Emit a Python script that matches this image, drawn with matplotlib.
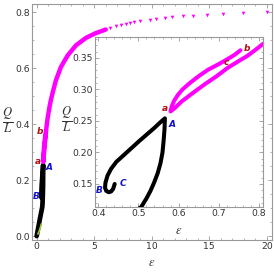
import matplotlib
matplotlib.use("Agg")
import matplotlib.pyplot as plt
from matplotlib.ticker import MultipleLocator, FuncFormatter

plt.rcParams['mathtext.fontset'] = 'stix'
plt.rcParams['font.family'] = ['DejaVu Sans']

# --- data ---
black_eps = [0.0, 0.14, 0.30, 0.42, 0.48, 0.507, 0.52, 0.53, 0.539, 0.548, 0.555,
             0.56, 0.563, 0.565, 0.566, 0.555, 0.54, 0.502, 0.445, 0.432, 0.423,
             0.418, 0.417, 0.42, 0.426, 0.432, 0.437, 0.441]
black_q = [0.0, 0.03, 0.065, 0.09, 0.102, 0.1135, 0.127, 0.139, 0.152, 0.167, 0.183,
           0.2, 0.22, 0.237, 0.254, 0.248, 0.239, 0.218, 0.185, 0.174, 0.163,
           0.152, 0.144, 0.139, 0.137, 0.138, 0.142, 0.15]

green_eps = [0.12, 0.22, 0.32, 0.40]
green_q = [0.008, 0.018, 0.030, 0.042]

mag_eps = [0.754, 0.74, 0.722, 0.70, 0.673, 0.648, 0.626, 0.610, 0.598, 0.589,
           0.583, 0.58, 0.59, 0.608, 0.635, 0.665, 0.695, 0.722, 0.75, 0.771,
           0.79, 0.81, 0.87, 0.95, 1.09, 1.23, 1.39, 1.67, 2.11, 2.69, 3.41,
           4.28, 5.14, 6.01]
mag_q = [0.362, 0.355, 0.348, 0.340, 0.331, 0.320, 0.309, 0.300, 0.291, 0.282,
         0.273, 0.265, 0.270, 0.281, 0.294, 0.308, 0.321, 0.334, 0.345, 0.353,
         0.362, 0.372, 0.395, 0.420, 0.455, 0.485, 0.512, 0.556, 0.604, 0.645,
         0.681, 0.708, 0.725, 0.738]

tri_eps = [6.4, 6.88, 7.3, 7.74, 8.1, 8.46, 8.98, 9.85, 10.4, 11.15, 11.8,
           12.7, 13.6, 14.8, 16.2, 17.9, 20.0]
tri_q = [0.744, 0.749, 0.754, 0.758, 0.761, 0.764, 0.768, 0.773, 0.776, 0.779,
         0.782, 0.785, 0.788, 0.791, 0.794, 0.796, 0.799]

main_labels = [("a", 0.09, 0.268, "#B01010"), ("A", 1.07, 0.245, "#1010D0"),
               ("B", -0.06, 0.143, "#1010D0"), ("b", 0.29, 0.375, "#B01010")]
inset_labels = [("a", 0.566, 0.269, "#B01010"), ("b", 0.771, 0.364, "#B01010"),
                ("c", 0.72, 0.342, "#B01010"), ("A", 0.583, 0.244, "#1010D0"),
                ("B", 0.403, 0.139, "#1010D0"), ("C", 0.461, 0.150, "#1010D0")]

MAG = "#FF00FF"
SPINE = "#999999"
TXT = "#333333"

fig = plt.figure(figsize=(2.74, 2.72), dpi=100)


def style(ax, xmaj, xmin, ymaj, ymin, fs):
    for s in ax.spines.values():
        s.set_color(SPINE)
        s.set_linewidth(0.8)
    ax.xaxis.set_major_locator(MultipleLocator(xmaj))
    ax.xaxis.set_minor_locator(MultipleLocator(xmin))
    ax.yaxis.set_major_locator(MultipleLocator(ymaj))
    ax.yaxis.set_minor_locator(MultipleLocator(ymin))
    ax.tick_params(which='both', direction='in', top=True, right=True,
                   color=SPINE, labelcolor=TXT, labelsize=fs, pad=1.5)
    ax.tick_params(which='major', length=3, width=0.6)
    ax.tick_params(which='minor', length=1.6, width=0.5)


ax = fig.add_axes([0.1157, 0.1176, 0.877, 0.8676])
ax.plot(black_eps, black_q, color='black', lw=3.4, solid_capstyle='round',
        solid_joinstyle='round', zorder=3)
ax.plot(green_eps, green_q, color='#9ACD32', lw=1.2, zorder=4)
ax.plot(mag_eps, mag_q, color=MAG, lw=3.2, solid_capstyle='round',
        solid_joinstyle='round', zorder=3)
ax.plot(tri_eps, tri_q, ls='none', marker='v', ms=2.6, color=MAG, mew=0, zorder=3)
ax.set_xlim(-0.43, 20.46)
ax.set_ylim(-0.014, 0.829)
style(ax, 5, 1, 0.2, 0.05, 6.7)
ax.xaxis.set_major_formatter(FuncFormatter(lambda v, p: f"{v:.0f}"))
ax.yaxis.set_major_formatter(FuncFormatter(lambda v, p: f"{v:.1f}"))
for t, x, y, c in main_labels:
    ax.text(x, y, t, color=c, fontsize=6.5, fontstyle='italic', fontweight='bold',
            ha='center', va='center', zorder=5)
fig.text(0.555, 0.035, r'$\epsilon$', fontsize=9, ha='center', va='center', color=TXT)
fig.text(0.028, 0.555, r'$\frac{Q}{L}$', fontsize=13, ha='center', va='center', color=TXT)

ins = fig.add_axes([0.3467, 0.239, 0.613, 0.625])
ins.set_facecolor('white')
ins.plot(black_eps, black_q, color='black', lw=2.9, solid_capstyle='round',
         solid_joinstyle='round', zorder=3)
ins.plot(mag_eps, mag_q, color=MAG, lw=2.9, solid_capstyle='round',
         solid_joinstyle='round', zorder=3)
ins.set_xlim(0.392, 0.81)
ins.set_ylim(0.1135, 0.383)
style(ins, 0.1, 0.02, 0.05, 0.01, 6.7)
ins.xaxis.set_major_formatter(FuncFormatter(lambda v, p: f"{v:.1f}"))
ins.yaxis.set_major_formatter(FuncFormatter(lambda v, p: f"{v:.2f}"))
for t, x, y, c in inset_labels:
    ins.text(x, y, t, color=c, fontsize=6.5, fontstyle='italic', fontweight='bold',
             ha='center', va='center', zorder=5)
fig.text(179 / 274, 1 - 230 / 272, r'$\epsilon$', fontsize=9, ha='center', va='center', color=TXT)
fig.text(67 / 274, 1 - 120 / 272, r'$\frac{Q}{L}$', fontsize=13, ha='center', va='center', color=TXT)

fig.savefig("out.png", dpi=100)
